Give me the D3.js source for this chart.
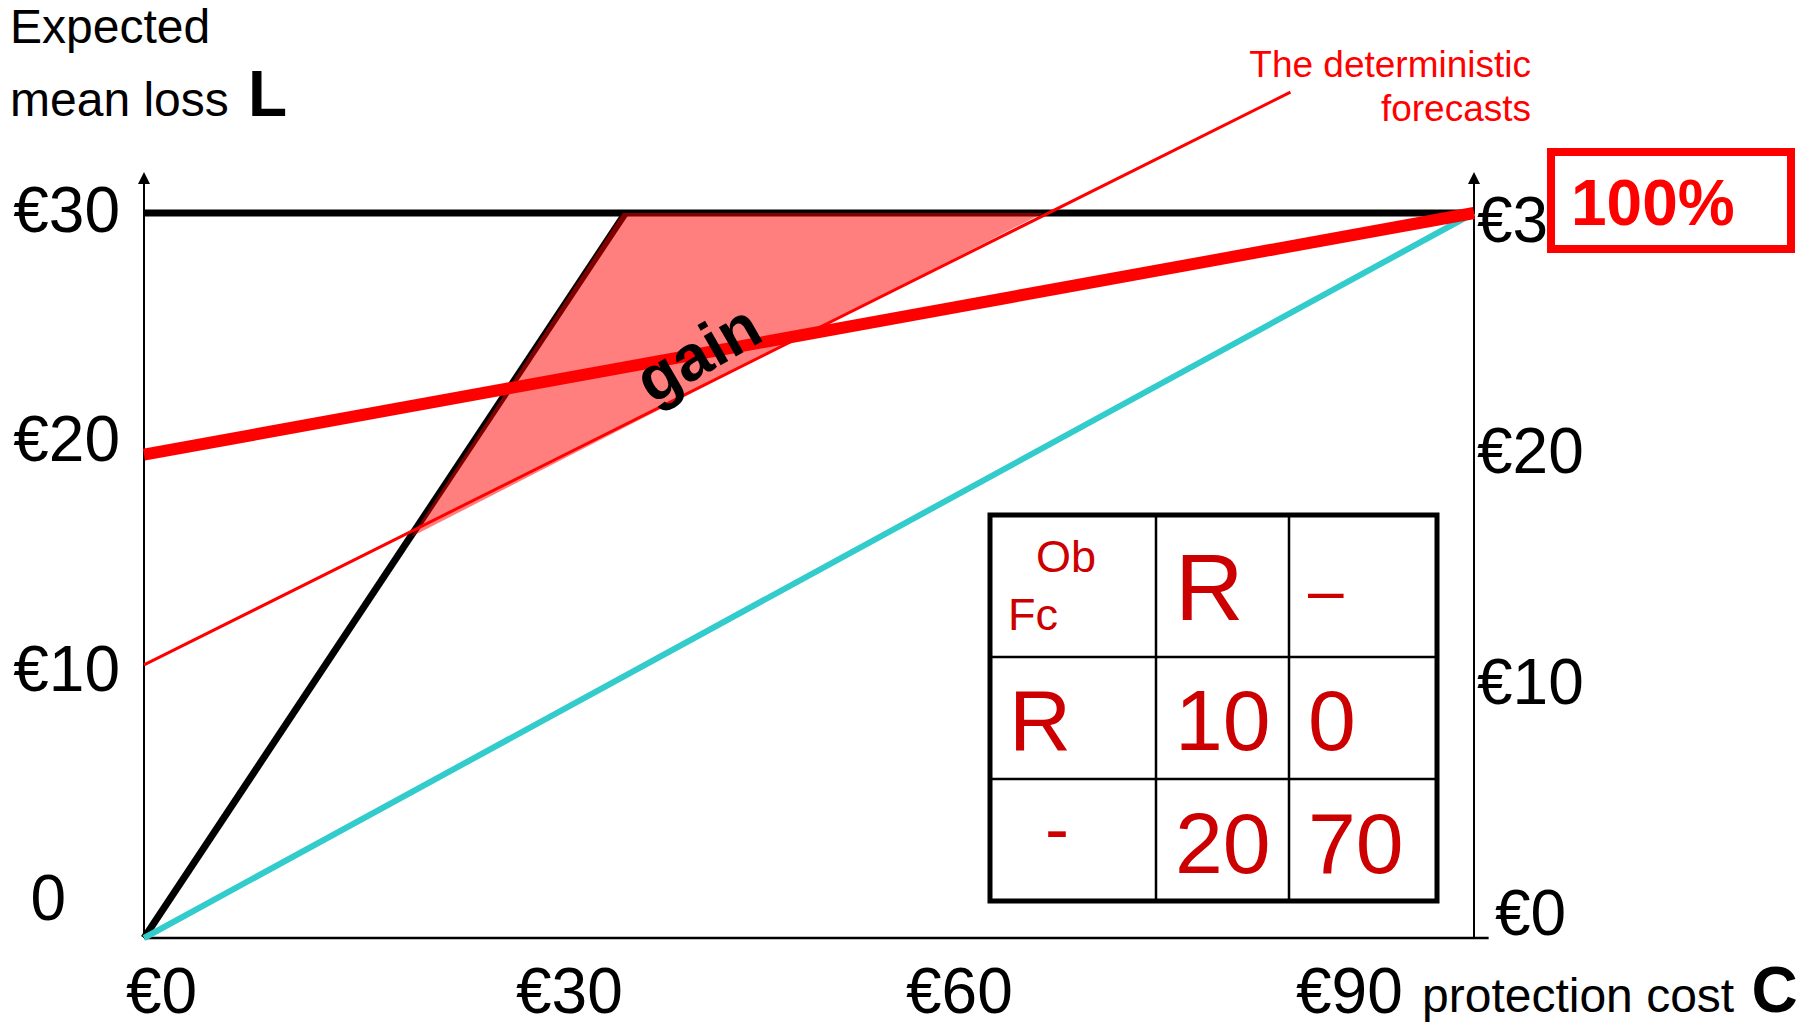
<!DOCTYPE html>
<html><head><meta charset="utf-8">
<script src="https://cdn.jsdelivr.net/npm/d3@7"></script>
<style>
html,body{margin:0;padding:0;background:#fff;}
svg{display:block;}
text{font-family:"Liberation Sans",Arial,Helvetica,sans-serif;}
</style>
</head><body>
<svg id="chart" width="1816" height="1027"></svg>
<script>
// ---------------- data ----------------
const xTickValues = [0, 30, 60, 90];
const xTickLabels = ["€0", "€30", "€60", "€90"];
const yTickValues = [30, 20, 10, 0];
const yTickLabelsLeft = ["€30", "€20", "€10", "0"];
const yTickLabelsRight = ["€30", "€20", "€10", "€0"];

const noProtectionLine    = [[0, 30], [100, 30]];
const climateLine         = [[0, 0], [36.2, 30]];
const perfectForecastLine = [[0, 0], [100, 30]];
const probForecastLine    = [[0, 20], [100, 30]];
const deterministicLine   = [[0, 11.3], [86.2, 35]];
const gainArea            = [[20.1, 16.6], [36.0, 30], [67.6, 30]];

const tableCorner   = ["Ob", "Fc"];
const tableColHeads = ["R", "–"];
const tableRowHeads = ["R", "-"];
const tableValues   = [["10", "0"], ["20", "70"]];

const yTitle = ["Expected", "mean loss"];
const yTitleSymbol = "L";
const xTitle = "protection cost";
const xTitleSymbol = "C";
const annotation = ["The deterministic", "forecasts"];
const gainLabel = "gain";
const skillLabel = "100%";

// ---------------- drawing ----------------
const svg = d3.select("#chart");
const W = 1816, H = 1027;
svg.append("rect").attr("width", W).attr("height", H).attr("fill", "#fff");

const x = d3.scaleLinear().domain([0, 100]).range([144, 1474]);
const y = d3.scaleLinear().domain([0, 30]).range([938, 213]);

// label placement scales (the original's text boxes sit slightly off the data grid)
const xLab = d3.scaleLinear().domain([0, 90]).range([126, 1296]);
const yLabL = d3.scaleLinear().domain([0, 30]).range([920, 232]);
const yLabR = d3.scaleLinear().domain([0, 30]).range([935, 242]);

const line = d3.line().x(d => x(d[0])).y(d => y(d[1]));

// arrow marker
const defs = svg.append("defs");
defs.append("marker")
  .attr("id", "arrow").attr("viewBox", "0 0 10 10")
  .attr("refX", 0).attr("refY", 5)
  .attr("markerWidth", 15).attr("markerHeight", 12)
  .attr("markerUnits", "userSpaceOnUse")
  .attr("orient", "auto")
  .append("path").attr("d", "M0,0 L10,5 L0,10 Z").attr("fill", "#000");

// axes
const axisG = svg.append("g");
[0, 100].forEach(v => {
  axisG.append("line")
    .attr("x1", x(v)).attr("x2", x(v))
    .attr("y1", y(0)).attr("y2", y(31.2))
    .attr("stroke", "#000").attr("stroke-width", 2)
    .attr("marker-end", "url(#arrow)");
});
axisG.append("line")
  .attr("x1", x(0)).attr("x2", x(101.1))
  .attr("y1", y(0)).attr("y2", y(0))
  .attr("stroke", "#000").attr("stroke-width", 2.5);

// lines
const linesG = svg.append("g").attr("fill", "none").attr("stroke-linecap", "butt");
linesG.append("path").datum(noProtectionLine).attr("d", line)
  .attr("stroke", "#000").attr("stroke-width", 7);
linesG.append("path").datum(climateLine).attr("d", line)
  .attr("stroke", "#000").attr("stroke-width", 7);
linesG.append("path").datum(perfectForecastLine).attr("d", line)
  .attr("stroke", "#33CCCC").attr("stroke-width", 6);
linesG.append("path").datum(deterministicLine).attr("d", line)
  .attr("stroke", "#FF0000").attr("stroke-width", 3);

// gain area (semi-transparent red over the lines)
svg.append("path").datum(gainArea)
  .attr("d", d3.line().x(d => x(d[0])).y(d => y(d[1])).curve(d3.curveLinearClosed))
  .attr("fill", "#FF0000").attr("fill-opacity", 0.5).attr("stroke", "none");

// thick probabilistic forecast line on top
svg.append("path").datum(probForecastLine).attr("d", line)
  .attr("fill", "none").attr("stroke", "#FF0000").attr("stroke-width", 12);

// gain label
svg.append("text")
  .attr("transform", "translate(709,372) rotate(-30)")
  .attr("text-anchor", "middle")
  .attr("font-size", 64).attr("font-weight", "bold").attr("fill", "#000")
  .text(gainLabel);

// tick labels
svg.append("g").selectAll("text").data(xTickValues).join("text")
  .attr("x", d => xLab(d)).attr("y", 1013)
  .attr("font-size", 64).attr("fill", "#000")
  .text((d, i) => xTickLabels[i]);

svg.append("g").selectAll("text").data(yTickValues).join("text")
  .attr("x", (d, i) => yTickLabelsLeft[i] === "0" ? 66 : 120)
  .attr("y", d => yLabL(d))
  .attr("text-anchor", "end")
  .attr("font-size", 64).attr("fill", "#000")
  .text((d, i) => yTickLabelsLeft[i]);

svg.append("g").selectAll("text").data(yTickValues).join("text")
  .attr("x", d => d === 0 ? 1495 : 1477)
  .attr("y", d => yLabR(d))
  .attr("font-size", 64).attr("fill", "#000")
  .text((d, i) => yTickLabelsRight[i]);

// axis titles
svg.append("text").attr("x", 10).attr("y", 43).attr("font-size", 48).attr("fill", "#000").text(yTitle[0]);
const t2 = svg.append("text").attr("x", 10).attr("y", 116).attr("font-size", 48).attr("fill", "#000");
t2.append("tspan").text(yTitle[1] + " ");
t2.append("tspan").attr("font-size", 64).attr("font-weight", "bold").attr("dx", 6).text(yTitleSymbol);

const t3 = svg.append("text").attr("x", 1422).attr("y", 1012).attr("font-size", 48).attr("fill", "#000");
t3.append("tspan").text(xTitle + " ");
t3.append("tspan").attr("font-size", 64).attr("font-weight", "bold").attr("dx", 4).text(xTitleSymbol);

// annotation
svg.append("g").selectAll("text").data(annotation).join("text")
  .attr("x", 1531).attr("y", (d, i) => 77 + i * 44)
  .attr("text-anchor", "end")
  .attr("font-size", 37).attr("fill", "#FF0000")
  .text(d => d);

// 100% box
svg.append("rect").attr("x", 1551).attr("y", 152).attr("width", 240).attr("height", 97)
  .attr("fill", "#fff").attr("stroke", "#FF0000").attr("stroke-width", 8);
svg.append("text").attr("x", 1571).attr("y", 225)
  .attr("font-size", 64).attr("font-weight", "bold").attr("fill", "#FF0000")
  .text(skillLabel);

// contingency table
const colEdges = [990, 1156, 1289, 1437];
const rowEdges = [515, 657, 779, 901];
const tG = svg.append("g");
tG.append("rect").attr("x", colEdges[0]).attr("y", rowEdges[0])
  .attr("width", colEdges[3] - colEdges[0]).attr("height", rowEdges[3] - rowEdges[0])
  .attr("fill", "#fff").attr("stroke", "none");
[1, 2].forEach(i => {
  tG.append("line").attr("x1", colEdges[i]).attr("x2", colEdges[i])
    .attr("y1", rowEdges[0]).attr("y2", rowEdges[3]).attr("stroke", "#000").attr("stroke-width", 2.5);
  tG.append("line").attr("x1", colEdges[0]).attr("x2", colEdges[3])
    .attr("y1", rowEdges[i]).attr("y2", rowEdges[i]).attr("stroke", "#000").attr("stroke-width", 2.5);
});
tG.append("rect").attr("x", colEdges[0]).attr("y", rowEdges[0])
  .attr("width", colEdges[3] - colEdges[0]).attr("height", rowEdges[3] - rowEdges[0])
  .attr("fill", "none").attr("stroke", "#000").attr("stroke-width", 5);

const red = "#CC0000";
// corner cell
tG.append("text").attr("x", colEdges[0] + 46).attr("y", 572).attr("font-size", 45).attr("fill", red).text(tableCorner[0]);
tG.append("text").attr("x", colEdges[0] + 18).attr("y", 630).attr("font-size", 45).attr("fill", red).text(tableCorner[1]);
// column heads
tG.append("text").attr("x", colEdges[1] + 19).attr("y", 620).attr("font-size", 95).attr("fill", red).text(tableColHeads[0]);
tG.append("text").attr("x", colEdges[2] + 19).attr("y", 612).attr("font-size", 64).attr("fill", red).text(tableColHeads[1]);
// row heads
tG.append("text").attr("x", colEdges[0] + 19).attr("y", 750).attr("font-size", 86).attr("fill", red).text(tableRowHeads[0]);
tG.append("text").attr("x", colEdges[0] + 55).attr("y", 853).attr("font-size", 72).attr("fill", red).text(tableRowHeads[1]);
// values
const rowBase = [750, 873];
tableValues.forEach((row, r) => {
  row.forEach((v, c) => {
    tG.append("text").attr("x", colEdges[c + 1] + 19).attr("y", rowBase[r])
      .attr("font-size", 86).attr("fill", red).text(v);
  });
});
</script>
</body></html>
